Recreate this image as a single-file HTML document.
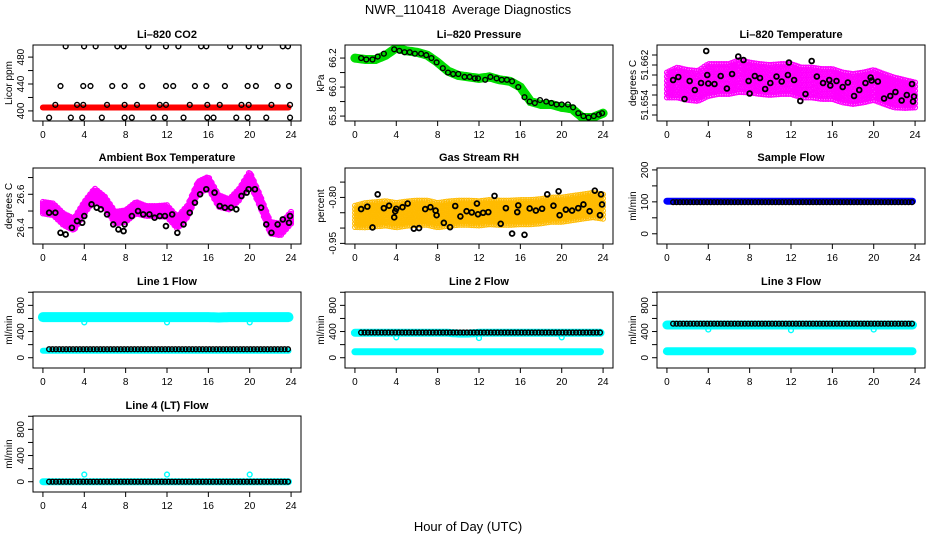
<!DOCTYPE html>
<html><head><meta charset="utf-8"><style>
html,body{margin:0;padding:0;background:#fff;}
svg{display:block;font-family:"Liberation Sans",Arial,sans-serif;}
</style></head><body>
<svg id="chart" width="936" height="540" viewBox="0 0 936 540" xmlns="http://www.w3.org/2000/svg">
<rect width="936" height="540" fill="#fff"/>
<text x="468" y="14" font-size="13" text-anchor="middle">NWR_110418&#160; Average Diagnostics</text>
<text x="468" y="531" font-size="13" text-anchor="middle">Hour of Day (UTC)</text>
</svg>
<script>
// ---- data arrays ----
const xTickVals = [0,4,8,12,16,20,24];
const hours = [0,1,2,3,4,5,6,7,8,9,10,11,12,13,14,15,16,17,18,19,20,21,22,23,24];

// CO2
const co2Red = [405,405,405,405,405,405,405,405,405,405,405,405,405,405,405,405,405,405,405,405,405,405,405,405,405];
const co2T496 = [2.2,3.98,5.1,7.2,7.8,10.2,11.9,13.1,15.3,15.8,18.1,19.9,21.0,23.2,23.7];
const co2T437 = [1.7,3.9,4.6,6.7,7.9,9.6,11.9,12.6,14.7,15.8,17.6,19.8,20.6,22.7,23.8];
const co2T409 = [1.2,3.3,3.9,6.2,7.9,9.1,11.3,11.9,14.2,15.9,17.1,19.2,19.9,22.1,23.9];
const co2T390 = [0.6,2.7,3.8,5.7,7.9,8.6,10.7,11.8,13.6,15.9,16.5,18.7,19.8,21.6,23.9];
const co2Levels = [496,437,409,390];

// Pressure
const presGreen = [66.20,66.19,66.19,66.22,66.27,66.25,66.24,66.22,66.17,66.11,66.08,66.07,66.06,66.07,66.05,66.04,66.00,65.90,65.88,65.88,65.86,65.85,65.79,65.79,65.82];
const presBlackT = [0.6,1.1,1.7,2.2,2.8,3.8,4.3,4.8,5.3,5.8,6.4,6.9,7.4,7.9,8.5,9.0,9.5,10.0,10.6,11.1,11.6,11.9,12.6,13.1,13.7,14.2,14.7,15.2,15.8,16.4,16.9,17.4,17.9,18.5,19.0,19.5,20.0,20.6,21.1,21.6,22.1,22.6,23.1,23.6,23.9];
const presBlackV = [66.20,66.19,66.19,66.21,66.23,66.26,66.25,66.24,66.24,66.23,66.23,66.22,66.20,66.17,66.13,66.10,66.09,66.09,66.07,66.07,66.06,66.06,66.05,66.07,66.06,66.05,66.05,66.04,66.00,65.93,65.90,65.89,65.91,65.90,65.89,65.88,65.88,65.88,65.86,65.82,65.80,65.79,65.80,65.81,65.82];

// Li-820 temperature
const tempMid = [51.6580,51.6585,51.6580,51.6578,51.6590,51.6592,51.6592,51.6598,51.6595,51.6592,51.6590,51.6592,51.6592,51.6585,51.6585,51.6582,51.6582,51.6575,51.6572,51.6575,51.6580,51.6572,51.6565,51.6562,51.6560];
const tempSpread = [0.0025,0.0030,0.0030,0.0030,0.0032,0.0030,0.0030,0.0032,0.0030,0.0030,0.0030,0.0030,0.0030,0.0030,0.0030,0.0030,0.0030,0.0030,0.0030,0.0030,0.0030,0.0030,0.0030,0.0028,0.0025];
const tempBlackT = [0.6,1.1,1.7,2.2,2.7,3.3,3.8,3.9,4.0,4.6,5.2,5.8,6.3,6.9,7.4,7.9,8.0,8.5,9.0,9.5,10.0,10.6,11.1,11.7,11.8,12.3,12.9,13.4,14.0,14.5,15.1,15.7,15.8,16.4,17.0,17.5,18.1,18.6,19.2,19.7,19.8,20.4,21.0,21.6,22.1,22.7,23.2,23.7,23.8,23.9];
const tempBlackV = [51.6590,51.6596,51.6552,51.6588,51.6570,51.6584,51.6648,51.6600,51.6583,51.6582,51.6598,51.6573,51.6602,51.6637,51.6630,51.6588,51.6563,51.6598,51.6594,51.6572,51.6584,51.6597,51.6587,51.6600,51.6625,51.6590,51.6548,51.6562,51.6628,51.6597,51.6584,51.6590,51.6579,51.6588,51.6576,51.6585,51.6558,51.6570,51.6584,51.6595,51.6589,51.6587,51.6553,51.6558,51.6566,51.6549,51.6560,51.6582,51.6547,51.6557];

// Ambient box temperature
const ambMid = [26.52,26.51,26.45,26.42,26.52,26.60,26.55,26.46,26.47,26.52,26.50,26.50,26.50,26.43,26.50,26.64,26.67,26.56,26.54,26.60,26.70,26.56,26.40,26.39,26.46];
const ambSpread = [0.035,0.035,0.035,0.035,0.035,0.035,0.035,0.035,0.035,0.035,0.03,0.03,0.035,0.035,0.035,0.035,0.035,0.035,0.03,0.035,0.035,0.035,0.035,0.035,0.035];
const ambBlackT = [0.6,1.2,1.7,2.2,2.8,3.3,3.8,4.0,4.7,5.2,5.6,6.2,6.8,7.3,7.8,7.9,8.6,9.2,9.7,10.3,10.8,11.3,11.8,11.9,12.5,13.0,13.6,14.2,14.7,15.2,15.8,16.6,17.1,17.6,18.2,18.7,19.2,19.7,19.9,20.5,21.1,21.6,22.1,22.7,23.2,23.8,23.9];
const ambBlackV = [26.49,26.49,26.37,26.36,26.40,26.44,26.43,26.47,26.54,26.52,26.51,26.48,26.42,26.39,26.38,26.42,26.47,26.50,26.48,26.48,26.46,26.47,26.47,26.41,26.48,26.37,26.42,26.49,26.55,26.60,26.63,26.61,26.53,26.52,26.52,26.51,26.59,26.61,26.63,26.63,26.52,26.42,26.37,26.42,26.45,26.43,26.47];

// Gas stream RH
const rhMid = [-0.862,-0.858,-0.855,-0.852,-0.858,-0.853,-0.850,-0.850,-0.858,-0.853,-0.850,-0.850,-0.852,-0.848,-0.850,-0.850,-0.848,-0.848,-0.845,-0.840,-0.840,-0.835,-0.830,-0.825,-0.830];
const rhSpread = [0.035,0.04,0.04,0.04,0.04,0.04,0.04,0.04,0.04,0.04,0.04,0.04,0.04,0.04,0.04,0.04,0.04,0.04,0.04,0.04,0.04,0.04,0.04,0.04,0.04];
const rhBlackT = [0.6,1.2,1.7,2.2,2.8,3.3,3.8,3.9,4.0,4.6,5.1,5.7,6.2,6.8,7.3,7.8,7.9,8.6,9.2,9.7,10.2,10.8,11.3,11.8,11.9,12.4,12.9,13.5,14.1,14.6,15.2,15.7,15.8,16.4,16.9,17.5,18.1,18.6,19.2,19.7,19.8,20.4,21.0,21.6,22.1,22.7,23.2,23.7,23.8,23.9];
const rhBlackV = [-0.838,-0.830,-0.898,-0.790,-0.835,-0.827,-0.865,-0.845,-0.837,-0.832,-0.820,-0.902,-0.900,-0.838,-0.832,-0.843,-0.858,-0.883,-0.897,-0.828,-0.862,-0.845,-0.849,-0.820,-0.855,-0.850,-0.848,-0.795,-0.886,-0.835,-0.918,-0.848,-0.826,-0.922,-0.836,-0.843,-0.837,-0.790,-0.827,-0.780,-0.858,-0.840,-0.843,-0.835,-0.823,-0.845,-0.778,-0.858,-0.790,-0.823];

// Sample flow
const sampleBlue = [102,102,102,102,102,102,102,102,102,102,102,102,102,102,102,102,102,102,102,102,102,102,102,102,102];
const sampleBlack = [99,99,99,99,99,99,99,99,99,99,99,99,99,99,99,99,99,99,99,99,99,99,99,99,99];

// Line flows
const l1High = [620,620,620,620,620,620,620,620,620,620,620,620,620,620,620,620,620,615,620,620,620,620,620,620,620];
const l1Low = [105,105,105,105,105,105,105,105,105,105,105,105,105,105,105,105,105,105,105,105,105,105,105,105,105];
const l1Black = [130,130,130,130,130,130,130,130,130,130,130,130,130,130,130,130,130,130,130,130,130,130,130,130,130];
const l1Dips = [540,540,540];
const l2High = [380,380,380,380,380,380,380,380,380,380,370,370,380,380,380,380,380,380,380,380,380,380,380,380,380];
const l2Low = [90,90,90,90,90,90,90,90,90,90,90,90,90,90,90,90,90,90,90,90,90,90,90,90,90];
const l2Black = [385,385,385,385,385,385,385,385,385,385,385,385,385,385,385,385,385,385,385,385,385,385,385,385,385];
const l2Dips = [310,300,310];
const l3High = [500,500,500,500,500,500,500,500,500,500,500,500,500,500,500,500,500,500,500,500,500,500,500,500,500];
const l3Low = [100,100,100,100,100,100,100,100,100,100,100,100,100,100,100,100,100,100,100,100,100,100,100,100,100];
const l3Black = [520,520,520,520,520,520,520,520,520,520,520,520,520,520,520,520,520,520,520,520,520,520,520,520,520];
const l3Dips = [430,420,430];
const l4Cyan = [0,0,0,0,0,0,0,0,0,0,0,0,0,0,0,0,0,0,0,0,0,0,0,0,0];
const l4Black = [0,0,0,0,0,0,0,0,0,0,0,0,0,0,0,0,0,0,0,0,0,0,0,0,0];
const l4Spikes = [110,110,110];
const dipTimes = [4,12,20];

// ---- drawing ----
const svg = document.getElementById('chart');
const NS = 'http://www.w3.org/2000/svg';
const COLS = [33,345,657], ROWS = [45,168,292,416], W = 268, H = 76;
const XMIN = -0.96, XMAX = 24.96;

function mk(tag, attrs, parent){
  const e = document.createElementNS(NS, tag);
  for (const k in attrs) e.setAttribute(k, attrs[k]);
  (parent||svg).appendChild(e);
  return e;
}
function interp(arr, t){
  const i = Math.min(Math.floor(t), 23), f = t - i;
  return arr[i]*(1-f) + arr[i+1]*f;
}

function panel(name, col, row, title, ytitle, ymin, ymax, ticks, labels){
  const x0 = COLS[col], y0 = ROWS[row];
  const g = mk('g', {});
  
  
  const sx = v => x0 + (v - XMIN)/(XMAX - XMIN)*W;
  const sy = v => y0 + H - (v - ymin)/(ymax - ymin)*H;
  const t = mk('text', {x: x0+W/2, y: y0-7, 'font-size': 11, 'font-weight': 'bold', 'text-anchor': 'middle'}, g);
  t.textContent = title;
  
  
  const yt = mk('text', {x: 0, y: 0, 'font-size': 10, 'text-anchor': 'middle', transform: `translate(${x0-21},${y0+H/2}) rotate(-90)`}, g);
  yt.textContent = ytitle;
  
  
  const ax = mk('g', {stroke: '#000', 'stroke-width': 1}, g);
  
  
  xTickVals.forEach(v => {
    mk('line', {x1: sx(v), x2: sx(v), y1: y0+H, y2: y0+H+5}, ax);
    const l = mk('text', {x: sx(v), y: y0+H+17, 'font-size': 10, 'text-anchor': 'middle', stroke: 'none'}, g);
    l.textContent = v;
    
    
  });
  ticks.forEach(v => mk('line', {x1: x0-5, x2: x0, y1: sy(v), y2: sy(v)}, ax));
  labels.forEach(v => {
    const l = mk('text', {x: 0, y: 0, 'font-size': 10, 'text-anchor': 'middle', transform: `translate(${x0-9},${sy(v)}) rotate(-90)`}, g);
    l.textContent = String(v);
    
    
  });
  const clip = 'clip-' + name;
  const cp = mk('clipPath', {id: clip}, g);
  mk('rect', {x: x0, y: y0, width: W, height: H}, cp);
  const plot = mk('g', {'clip-path': `url(#${clip})`}, g);
  
  
  const box = mk('rect', {x: x0, y: y0, width: W, height: H, fill: 'none', stroke: '#000', 'stroke-width': 1}, g);
  
  
  return {sx, sy, plot};
}
function pt(p, x, y, color, label, sw){
  const c = mk('circle', {cx: p.sx(x), cy: p.sy(y), r: 2.4, fill: 'none', stroke: color, 'stroke-width': sw || 1.4}, p.plot);
  
  
}
function band(p, arr, color, width, label, t0, t1){
  let d = '';
  for (let t = t0; t <= t1 + 1e-9; t += 0.25) d += (d ? 'L' : 'M') + p.sx(t).toFixed(1) + ',' + p.sy(interp(arr, t)).toFixed(1);
  const e = mk('path', {d, fill: 'none', stroke: color, 'stroke-width': width, 'stroke-linecap': 'round'}, p.plot);
  
  
}
function cloud(p, mid, spread, color, label, sw){
  let row = 0;
  for (let t = 0; t <= 24 + 1e-9; t += 0.12){
    const m = interp(mid, t), s = interp(spread, t);
    const off = (row++ % 2) ? 0.5 : 0;
    for (let k = -3; k <= 3; k++){
      const kk = k + off;
      if (kk > 3) continue;
      pt(p, t, m + kk*s/3, color, label, sw);
    }
  }
}
function blackRow(p, arr, t0, label){
  for (let t = t0; t <= 23.9 + 1e-9; t += 0.33) pt(p, t, interp(arr, t), '#000', label);
}

// Panel 1: CO2
let p = panel('co2', 0, 0, 'Li\u2013820 CO2', 'Licor ppm', 385, 498, [400,420,440,460,480], [400,440,480]);
band(p, co2Red, '#ff0000', 6, 'co2-red-series', 0, 23.9);
[co2T496, co2T437, co2T409, co2T390].forEach((ts, i) => ts.forEach(t => pt(p, t, co2Levels[i], '#000', 'co2-black-point')));

// Panel 2: pressure
p = panel('pressure', 1, 0, 'Li\u2013820 Pressure', 'kPa', 65.766, 66.29, [65.8,65.9,66.0,66.1,66.2], ['65.8','66.0','66.2']);
band(p, presGreen, '#00dd00', 9, 'pressure-green-series', 0, 24);
presBlackT.forEach((t, i) => pt(p, t, presBlackV[i], '#000', 'pressure-black-point'));

// Panel 3: Li-820 temperature
p = panel('li820-temp', 2, 0, 'Li\u2013820 Temperature', 'degrees C', 51.6508, 51.6660, [51.652,51.654,51.656,51.658,51.660,51.662,51.664], ['51.654','51.662']);
cloud(p, tempMid, tempSpread, '#ff00ff', 'temp-magenta-point', 1.2);
tempBlackT.forEach((t, i) => pt(p, t, tempBlackV[i], '#000', 'temp-black-point', 1.8));

// Panel 4: ambient box temp
p = panel('ambient-temp', 0, 1, 'Ambient Box Temperature', 'degrees C', 26.303, 26.757, [26.4,26.5,26.6,26.7], ['26.4','26.6']);
cloud(p, ambMid, ambSpread, '#ff00ff', 'ambient-magenta-point', 1.2);
ambBlackT.forEach((t, i) => pt(p, t, ambBlackV[i], '#000', 'ambient-black-point', 1.8));

// Panel 5: RH
p = panel('gas-rh', 1, 1, 'Gas Stream RH', 'percent', -0.952, -0.704, [-0.95,-0.90,-0.85,-0.80,-0.75], ['-0.95','-0.80']);
cloud(p, rhMid, rhSpread, '#ffbb00', 'rh-orange-point', 1.0);
rhBlackT.forEach((t, i) => pt(p, t, rhBlackV[i], '#000', 'rh-black-point', 1.8));

// Panel 6: sample flow
p = panel('sample-flow', 2, 1, 'Sample Flow', 'ml/min', -32, 206, [0,50,100,150,200], [0,100,200]);
band(p, sampleBlue, '#0000ff', 7, 'sample-blue-series', 0, 23.9);
blackRow(p, sampleBlack, 0.6, 'sample-black-point');

const flowTicks = [0,200,400,600,800,1000], flowLabels = [0,400,800];
// Line 1
p = panel('line1-flow', 0, 2, 'Line 1 Flow', 'ml/min', -157, 1004, flowTicks, flowLabels);
band(p, l1High, '#00ffff', 10, 'line1-cyan-high', 0, 23.8);
band(p, l1Low, '#00ffff', 6, 'line1-cyan-low', 0, 23.8);
dipTimes.forEach((t, i) => pt(p, t, l1Dips[i], '#00ffff', 'line1-cyan-dip'));
blackRow(p, l1Black, 0.6, 'line1-black-point');
// Line 2
p = panel('line2-flow', 1, 2, 'Line 2 Flow', 'ml/min', -157, 1004, flowTicks, flowLabels);
band(p, l2High, '#00ffff', 8, 'line2-cyan-high', 0, 23.8);
band(p, l2Low, '#00ffff', 7, 'line2-cyan-low', 0, 23.8);
dipTimes.forEach((t, i) => pt(p, t, l2Dips[i], '#00ffff', 'line2-cyan-dip'));
blackRow(p, l2Black, 0.6, 'line2-black-point');
// Line 3
p = panel('line3-flow', 2, 2, 'Line 3 Flow', 'ml/min', -157, 1004, flowTicks, flowLabels);
band(p, l3High, '#00ffff', 9, 'line3-cyan-high', 0, 23.8);
band(p, l3Low, '#00ffff', 8, 'line3-cyan-low', 0, 23.8);
dipTimes.forEach((t, i) => pt(p, t, l3Dips[i], '#00ffff', 'line3-cyan-dip'));
blackRow(p, l3Black, 0.6, 'line3-black-point');
// Line 4
p = panel('line4-flow', 0, 3, 'Line 4 (LT) Flow', 'ml/min', -157, 1004, flowTicks, flowLabels);
band(p, l4Cyan, '#00ffff', 7, 'line4-cyan-series', 0, 23.8);
dipTimes.forEach((t, i) => pt(p, t, l4Spikes[i], '#00ffff', 'line4-cyan-spike'));
blackRow(p, l4Black, 0.6, 'line4-black-point');
</script>
</body></html>
